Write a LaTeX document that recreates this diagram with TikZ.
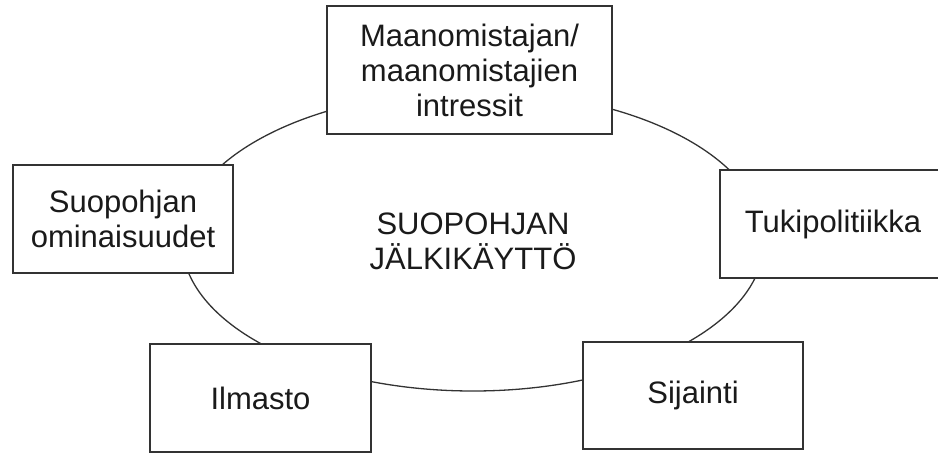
\documentclass[tikz,border=0pt]{standalone}
\usepackage{fontspec}
\setmainfont{Liberation Sans}
\usetikzlibrary{shapes.geometric}
\definecolor{linegray}{HTML}{333333}
\definecolor{textgray}{HTML}{1A1A1A}
\begin{document}
\begin{tikzpicture}[x=1pt, y=-1pt,
  box/.style={draw=linegray, line width=1.6pt, fill=white, inner sep=0pt, align=center, text=textgray, font=\fontsize{31}{35}\selectfont},
  ring/.style={ellipse, draw=linegray, line width=1.3pt, inner sep=0pt, align=center, text=textgray, font=\fontsize{31}{35}\selectfont}]
\useasboundingbox (0,0) rectangle (938,453);

\node[ring, minimum width=582pt, minimum height=300pt] at (473,241)(kaytto) {SUOPOHJAN\\J\"ALKIK\"AYTT\"O};

\node[box, minimum width=285pt, minimum height=128pt] at (469.5,70)(intressit) {Maanomistajan/\\maanomistajien\\intressit};
\node[box, minimum width=220pt, minimum height=108pt] at (123,219)(ominaisuudet) {Suopohjan\\ominaisuudet};
\node[box, minimum width=226pt, minimum height=108pt] at (833,224)(tuki) {Tukipolitiikka};
\node[box, minimum width=221pt, minimum height=108pt] at (260.5,398)(ilmasto) {Ilmasto};
\node[box, minimum width=220pt, minimum height=107pt] at (693,395.5)(sijainti) {Sijainti};

\end{tikzpicture}
\end{document}
